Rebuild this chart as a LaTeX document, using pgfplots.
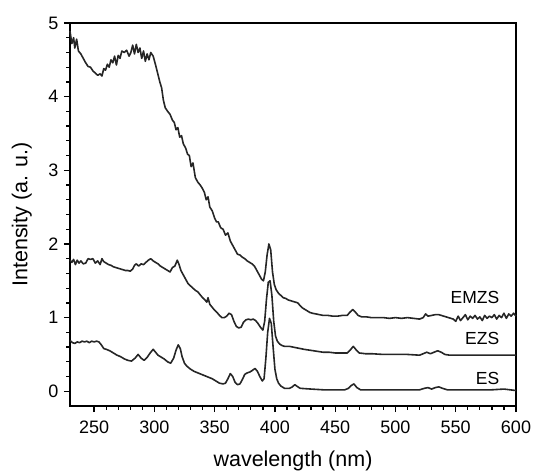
\documentclass[border=0pt]{standalone}
\usepackage{fontspec}
\setmainfont{Liberation Sans}
\usepackage{pgfplots}
\pgfplotsset{compat=1.18}

\pgfplotstableread{
x y
230 4.89
231.5 4.72
233 4.80
234 4.66
235.5 4.78
237 4.62
239 4.58
241 4.52
243 4.46
245 4.41
247 4.40
249 4.35
251 4.32
253 4.29
255 4.31
256.5 4.28
258 4.38
259.5 4.36
261 4.44
262.5 4.40
264 4.50
265.5 4.46
267 4.55
268.5 4.43
270 4.56
271.5 4.52
273 4.62
275 4.60
277 4.63
279 4.55
280.5 4.60
282 4.70
283.5 4.58
285 4.71
286.5 4.60
288 4.66
289.5 4.52
291 4.62
292.5 4.48
294 4.58
295.5 4.50
297 4.60
299 4.55
301 4.43
303 4.30
304.5 4.20
306 4.12
307.5 3.95
309 3.85
311 3.80
313 3.76
315 3.68
316.5 3.65
318 3.55
319.5 3.58
321 3.45
322.5 3.47
324 3.36
326 3.30
327.5 3.22
329 3.20
330.5 3.05
332 3.10
334 2.90
336 2.84
338 2.80
340 2.75
341.5 2.70
343 2.60
344.5 2.64
346 2.50
348 2.45
350 2.35
351.5 2.30
353 2.30
355 2.22
357 2.20
359 2.12
361 2.15
363 2.04
365 1.98
367 1.92
369 1.86
371 1.85
373 1.82
375 1.80
377 1.77
379 1.75
381 1.73
383 1.70
385 1.64
387 1.58
389 1.52
390.5 1.50
392 1.62
393.5 1.85
395 2.00
396.5 1.92
398 1.62
399.5 1.45
401 1.38
403 1.33
405 1.30
407 1.27
409 1.26
411 1.24
413 1.23
415 1.22
417 1.21
419 1.20
421 1.16
423 1.13
425 1.11
427 1.09
429 1.07
431 1.06
434 1.05
437 1.04
440 1.03
444 1.03
448 1.02
452 1.02
456 1.03
460 1.03
462 1.07
464.5 1.11
467 1.07
469 1.03
472 1.01
476 1.01
480 1.00
485 1.00
490 1.00
495 0.99
500 1.00
505 0.99
510 1.00
515 0.99
520 0.98
523 1.00
525 1.05
527 1.02
530 1.03
533 1.04
536 1.04
540 1.02
544 1.00
548 0.98
550 0.95
552 1.02
554 0.96
556 1.00
558 1.04
560 0.97
562 1.02
564 0.99
566 1.03
568 0.98
570 1.01
572 0.96
574 1.03
576 0.99
578 1.02
580 1.00
582 1.04
584 0.98
586 1.03
588 1.00
590 1.06
592 0.99
594 1.05
596 1.02
598 1.06
600 1.02
}\emzs

\pgfplotstableread{
x y
230 1.78
231.5 1.75
233 1.79
234.5 1.72
236 1.78
237.5 1.74
239 1.77
241 1.73
243 1.74
245 1.80
247 1.79
249 1.80
251 1.74
253 1.77
255 1.72
256.5 1.80
258 1.76
260 1.74
262 1.72
264 1.71
266 1.69
268 1.68
270 1.67
272 1.66
274 1.65
276 1.64
278 1.64
280 1.63
282 1.66
283.5 1.71
285 1.73
287 1.70
289 1.73
291 1.72
293 1.75
295 1.78
297 1.80
299 1.77
301 1.75
303 1.73
305 1.70
307 1.68
309 1.66
311 1.64
313 1.62
315 1.68
317 1.70
319 1.78
320.5 1.72
322 1.64
324 1.58
326 1.52
328 1.46
330 1.43
332 1.40
334 1.37
336 1.35
338 1.31
340 1.27
342 1.24
343.5 1.21
344.5 1.27
346 1.18
348 1.14
350 1.10
352 1.07
354 1.03
356 1.00
358 1.00
360 1.02
362 1.06
364 1.04
366 0.95
368 0.88
370 0.86
372 0.87
374 0.94
376 0.97
378 0.98
380 0.97
382 0.98
384 0.96
386 0.92
388 0.87
390 0.83
391.5 0.95
393 1.25
394.5 1.48
396 1.50
397.5 1.30
399 0.95
400.5 0.75
402 0.68
404 0.64
406 0.62
408 0.61
410 0.61
412 0.61
415 0.60
418 0.59
421 0.58
424 0.57
428 0.56
432 0.55
436 0.54
440 0.53
445 0.53
450 0.52
455 0.52
460 0.52
462.5 0.56
465 0.61
467.5 0.56
470 0.52
475 0.51
480 0.51
490 0.50
500 0.50
510 0.50
520 0.49
523 0.51
526 0.53
529 0.51
532 0.53
535 0.55
538 0.53
541 0.50
545 0.49
550 0.49
560 0.49
570 0.49
580 0.49
590 0.49
600 0.49
}\ezs

\pgfplotstableread{
x y
230 0.69
232 0.66
234 0.65
236 0.67
238 0.66
240 0.68
242 0.67
244 0.68
246 0.66
248 0.68
250 0.67
252 0.68
254 0.67
256 0.63
258 0.58
260 0.57
263 0.55
266 0.52
269 0.49
272 0.47
275 0.44
278 0.42
281 0.41
284 0.45
286.5 0.50
289 0.45
291.5 0.42
294 0.46
296.5 0.52
299 0.57
301 0.53
303 0.49
305 0.47
308 0.44
311 0.40
313.5 0.38
316 0.45
318 0.56
319.8 0.63
321.5 0.58
323 0.47
325 0.38
327 0.34
330 0.30
333 0.27
336 0.25
339 0.23
342 0.21
345 0.19
348 0.17
351 0.14
354 0.11
357 0.10
359 0.11
361 0.17
363 0.24
365 0.20
367 0.12
369 0.09
371 0.10
373 0.16
375 0.23
377 0.25
379 0.26
381 0.28
383.5 0.31
385.5 0.27
387.5 0.20
389.5 0.14
391 0.17
392.5 0.45
394 0.80
395.5 0.99
397 0.92
398.5 0.60
400 0.30
401.5 0.17
403 0.11
405 0.07
408 0.04
412 0.04
414.5 0.06
416.5 0.09
419 0.06
421 0.04
430 0.03
440 0.02
450 0.02
458 0.02
461 0.04
463.5 0.08
465.5 0.10
468 0.05
471 0.02
480 0.02
490 0.02
500 0.02
510 0.02
520 0.02
524 0.04
527 0.05
530 0.03
533 0.05
536 0.06
539 0.04
543 0.02
550 0.02
560 0.02
570 0.02
580 0.02
590 0.03
595 0.02
600 0.01
}\es

\begin{document}
\begin{tikzpicture}
\begin{axis}[
    scale only axis,
    width=446pt,
    height=383pt,
    xmin=230, xmax=600,
    ymin=-0.2, ymax=5,
    xtick={250,300,...,600},
    ytick={0,1,...,5},
    minor x tick num=4,
    minor y tick num=4,
    xtick pos=bottom,
    ytick pos=left,
    tick align=outside,
    major tick length=6pt,
    minor tick length=3.5pt,
    axis line style={line width=1.4pt},
    every tick/.style={line width=1.3pt, black},
    /pgf/number format/assume math mode=true,
    ticklabel style={font=\fontsize{18}{20}\selectfont},
    xticklabel style={yshift=-5pt},
    yticklabel style={xshift=-2pt},
    xlabel={wavelength (nm)},
    ylabel={Intensity (a. u.)},
    every axis x label/.style={at={(axis description cs:0.5,0)}, anchor=base,
        yshift=-60pt, font=\fontsize{21.5}{24}\selectfont},
    every axis y label/.style={at={(axis description cs:-0.108,0.5)}, rotate=90,
        anchor=center, font=\fontsize{21.5}{24}\selectfont},
    clip=false,
]
\addplot[line width=1.6pt, black!85, line join=round] table {\emzs};
\addplot[line width=1.6pt, black!85, line join=round] table {\ezs};
\addplot[line width=1.6pt, black!85, line join=round] table {\es};
\node[anchor=east, font=\fontsize{17.5}{20}\selectfont] at (axis cs:589,1.28) {EMZS};
\node[anchor=east, font=\fontsize{17.5}{20}\selectfont] at (axis cs:589,0.72) {EZS};
\node[anchor=east, font=\fontsize{17.5}{20}\selectfont] at (axis cs:589,0.18) {ES};
\end{axis}
\pgfresetboundingbox
\path[use as bounding box] (-70pt,-65pt) rectangle (464pt,406pt);
\end{tikzpicture}
\end{document}
